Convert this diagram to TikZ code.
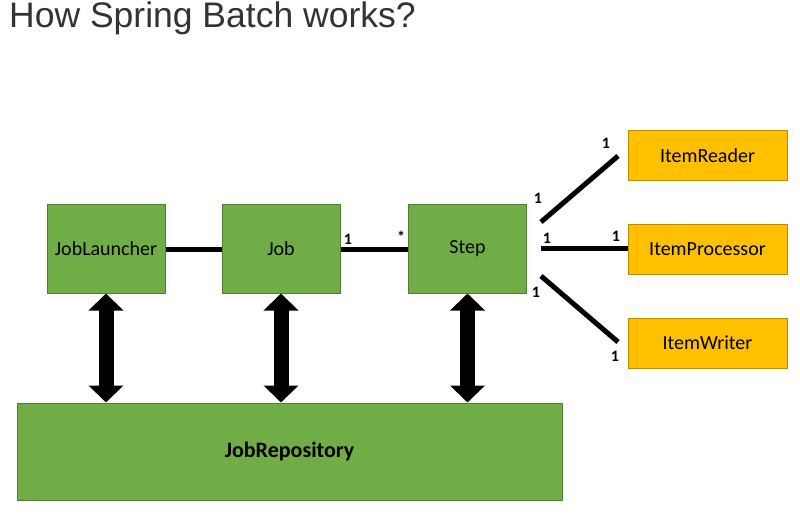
\documentclass[tikz,border=0pt]{standalone}
\usepackage{fontspec}
\setmainfont{Carlito}
\newfontfamily\titlefont{Liberation Sans}
\usetikzlibrary{arrows.meta}
\definecolor{boxgreen}{HTML}{70AD47}
\definecolor{boxgreenline}{HTML}{507E32}
\definecolor{boxorange}{HTML}{FFC000}
\definecolor{boxorangeline}{HTML}{BC8C00}
\definecolor{titlegray}{HTML}{333333}
\begin{document}
\begin{tikzpicture}[x=1pt, y=-1pt,
		greenbox/.style={draw=boxgreenline, fill=boxgreen, line width=1pt, inner sep=0pt,
			minimum width=118pt, minimum height=88pt, font=\fontsize{20}{24}\selectfont},
		itembox/.style={draw=boxorangeline, fill=boxorange, line width=1pt, inner sep=0pt,
			minimum width=159pt, minimum height=50pt, font=\fontsize{20}{24}\selectfont},
		link/.style={line width=5pt},
		mult/.style={font=\bfseries\fontsize{16}{18}\selectfont, inner sep=0pt},
		fat/.style={line width=15pt, {Triangle[width=34pt,length=17pt]}-{Triangle[width=34pt,length=17pt]}}]
			
			\useasboundingbox (0,0) rectangle (800,513);
			
			\node[anchor=base west, text=titlegray, inner sep=0pt, font=\titlefont\fontsize{35.5}{40}\selectfont] (title) at (9,28) {How Spring Batch works?};
			
			\node[greenbox] (launcher) at (106,249) {JobLauncher};
			\node[greenbox] (job) at (281,249) {Job};
			\node[greenbox] (step) at (467.5,249) {Step};
			\node[greenbox, minimum width=545pt, minimum height=97pt, font=\bfseries\fontsize{22}{26}\selectfont] (repo) at (289.5,451.5) {JobRepository};
			
			\node[itembox] (reader) at (707.5,156) {ItemReader};
			\node[itembox] (processor) at (707.5,249.5) {ItemProcessor};
			\node[itembox] (writer) at (707.5,343) {ItemWriter};
			
			\coordinate (r1) at (541,222);
			\coordinate (r2) at (618,156);
			\coordinate (p1) at (541,248);
			\coordinate (w1) at (541,276);
			\coordinate (w2) at (618,342);
			
			\draw[link] (launcher) -- (job);
			\draw[link] (job) -- (step);
			\draw[link] (r1) -- (r2);
			\draw[link] (p1) -- (processor.west |- p1);
			\draw[link] (w1) -- (w2);
			
			\draw[fat] (launcher.south) -- (launcher.south |- repo.north);
			\draw[fat] (job.south) -- (job.south |- repo.north);
			\draw[fat] (step.south) -- (step.south |- repo.north);
			
			\node[mult] (m1) at (348,239) {1};
			\node[mult] (m2) at (401,237) {*};
			\node[mult] (m3) at (538,198) {1};
			\node[mult] (m4) at (547,238) {1};
			\node[mult] (m5) at (536,292) {1};
			\node[mult] (m6) at (606,143) {1};
			\node[mult] (m7) at (616,236) {1};
			\node[mult] (m8) at (615,356) {1};
			
		\end{tikzpicture}
\end{document}
